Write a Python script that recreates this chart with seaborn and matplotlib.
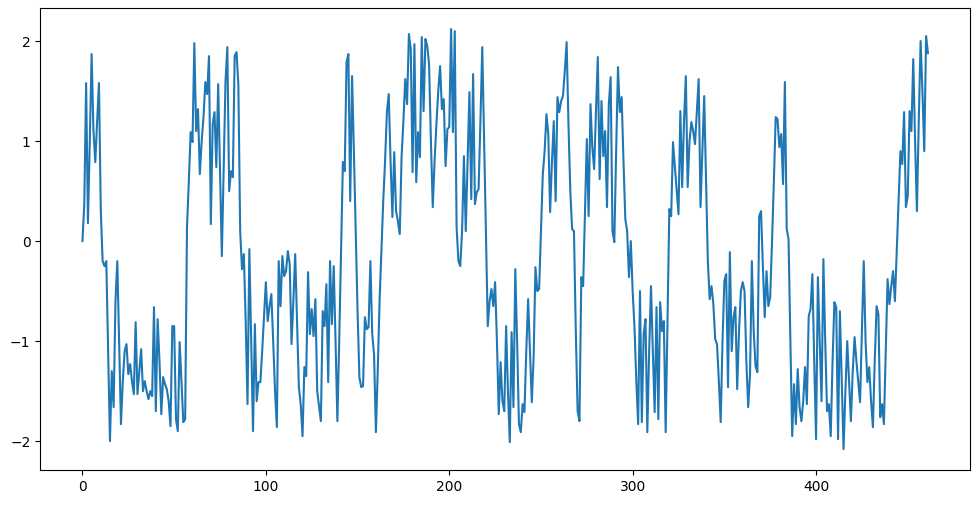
import numpy as np
import pandas as pd
import matplotlib
matplotlib.use("Agg")
import matplotlib.pyplot as plt
import seaborn as sns

# values, one per step
values = [
    0.0, 0.37, 1.58, 0.18, 1.0, 1.87, 1.1, 0.79, 1.2, 1.58,
    0.3, -0.2, -0.25, -0.2, -1.1, -2.0, -1.3, -1.66, -0.6, -0.2,
    -1.0, -1.83, -1.4, -1.1, -1.03, -1.33, -1.23, -1.4, -1.53, -0.81,
    -1.53, -1.3, -1.08, -1.5, -1.4, -1.5, -1.58, -1.5, -1.55, -0.66,
    -1.7, -0.78, -1.2, -1.73, -1.36, -1.43, -1.48, -1.6, -1.85, -0.85,
    -0.85, -1.78, -1.9, -1.01, -1.4, -1.81, -1.78, 0.14, 0.6, 1.09,
    0.99, 1.98, 1.1, 1.32, 0.67, 1.0, 1.24, 1.59, 1.47, 1.85,
    0.17, 1.17, 1.29, 0.74, 1.57, 0.7, -0.15, 0.75, 1.6, 1.94,
    0.5, 0.7, 0.64, 1.85, 1.89, 1.57, 0.1, -0.28, -0.13, -0.8,
    -1.63, -0.08, -1.0, -1.9, -0.83, -1.6, -1.41, -1.41, -1.1, -0.75,
    -0.41, -0.8, -0.65, -0.53, -1.0, -1.5, -1.86, -0.2, -0.65, -0.15,
    -0.35, -0.3, -0.1, -0.23, -1.03, -0.6, -0.13, -0.8, -1.46, -1.63,
    -1.95, -1.26, -1.35, -0.31, -0.93, -0.68, -0.95, -0.58, -1.5, -1.65,
    -1.8, -0.7, -0.85, -0.43, -1.41, -0.2, -0.83, -0.25, -1.0, -1.8,
    -1.0, -0.1, 0.79, 0.7, 1.79, 1.87, 0.4, 1.65, 0.9, 0.1,
    -0.7, -1.36, -1.46, -1.45, -0.76, -0.88, -0.86, -0.2, -0.93, -1.13,
    -1.91, -1.3, -0.6, -0.1, 0.4, 0.8, 1.29, 1.47, 0.8, 0.24,
    0.89, 0.3, 0.2, 0.07, 0.84, 1.2, 1.62, 1.37, 2.07, 1.92,
    0.69, 1.97, 0.59, 1.09, 0.84, 2.04, 1.3, 2.02, 1.95, 1.77,
    1.0, 0.34, 0.8, 1.17, 1.5, 1.75, 1.32, 1.42, 0.75, 1.12,
    1.14, 2.12, 1.09, 2.1, 0.14, -0.2, -0.25, 0.1, 0.85, 0.1,
    0.8, 1.49, 0.42, 1.67, 0.37, 0.49, 0.52, 1.2, 1.94, 1.0,
    0.04, -0.85, -0.6, -0.48, -0.65, -0.41, -1.0, -1.73, -1.21, -1.6,
    -1.7, -0.85, -1.5, -2.01, -0.91, -1.66, -0.28, -1.0, -1.83, -1.91,
    -1.63, -1.71, -1.1, -0.58, -1.1, -1.61, -1.16, -0.26, -0.5, -0.48,
    0.1, 0.67, 0.9, 1.27, 1.07, 0.29, 0.8, 1.2, 0.4, 1.44,
    1.29, 1.4, 1.45, 1.7, 1.99, 1.17, 0.5, 0.12, 0.1, -0.9,
    -1.7, -1.8, -0.36, -0.45, 0.3, 1.02, 0.25, 1.37, 0.94, 0.72,
    1.3, 1.84, 0.62, 1.4, 0.85, 1.1, 0.34, 1.37, 1.64, 0.1,
    -0.01, 0.9, 1.74, 1.29, 1.44, 0.8, 0.22, 0.1, -0.36, 0.0,
    -0.5, -0.86, -1.4, -1.83, -0.5, -1.81, -0.93, -0.78, -1.91, -1.1,
    -0.45, -1.1, -1.71, -0.66, -1.78, -0.61, -0.9, -0.8, -1.91, -0.8,
    0.32, 0.25, 0.99, 0.75, 0.5, 0.27, 1.3, 0.54, 1.2, 1.65,
    0.54, 1.0, 1.19, 1.1, 0.97, 1.3, 1.62, 0.34, 0.9, 1.45,
    0.6, -0.2, -0.58, -0.45, -0.63, -0.98, -1.03, -1.4, -1.81, -1.0,
    -0.4, -0.33, -1.46, -0.11, -1.1, -0.76, -0.66, -1.48, -0.9, -0.5,
    -0.41, -0.5, -1.2, -1.66, -1.33, -0.2, -0.9, -1.25, -1.31, 0.25,
    0.3, -0.25, -0.76, -0.3, -0.65, -0.56, 0.0, 0.6, 1.24, 1.22,
    0.94, 1.07, 0.57, 1.59, 0.12, 0.02, -1.0, -1.95, -1.43, -1.83,
    -1.28, -1.66, -1.8, -1.6, -1.26, -1.63, -0.75, -0.68, -0.33, -1.2,
    -1.98, -0.36, -1.0, -1.6, -0.18, -1.0, -1.7, -1.63, -1.95, -1.2,
    -0.61, -0.66, -1.98, -0.7, -1.4, -2.08, -1.5, -1.0, -1.4, -1.8,
    -1.3, -0.96, -1.2, -1.4, -1.61, -0.9, -0.2, -1.0, -1.41, -1.26,
    -1.6, -1.86, -1.2, -0.65, -0.73, -1.76, -1.63, -1.83, -1.1, -0.38,
    -0.63, -0.45, -0.3, -0.6, -0.1, 0.4, 0.9, 0.77, 1.29, 0.34,
    0.45, 1.3, 1.1, 1.82, 1.0, 0.3, 1.2, 2.0, 1.5, 0.9,
    2.05, 1.88,
]
steps = np.arange(len(values))

df = pd.DataFrame({"step": steps, "value": values})

fig = plt.figure(figsize=(9.8, 5.05), dpi=100)
ax = fig.add_axes([0.041, 0.069, 0.949, 0.915])
sns.lineplot(data=df, x="step", y="value", ax=ax, color="#1f77b4", linewidth=1.5)
ax.set_xlabel("")
ax.set_ylabel("")
ax.set_xticks([0, 100, 200, 300, 400])
ax.set_yticks([-2, -1, 0, 1, 2])

fig.savefig("out.png", dpi=100)
